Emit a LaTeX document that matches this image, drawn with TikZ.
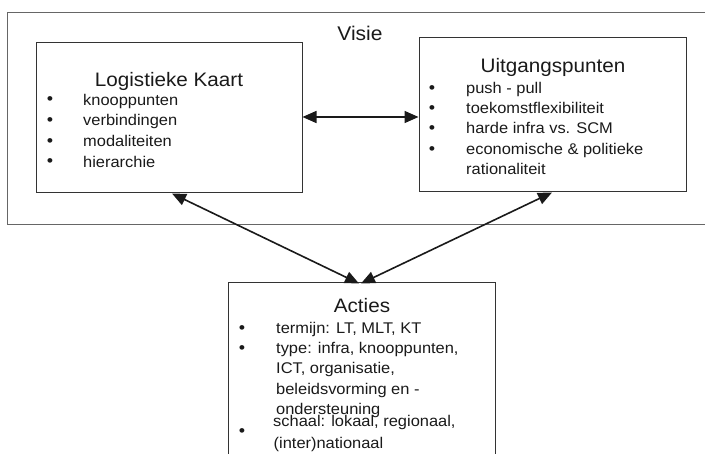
\documentclass[tikz,border=0pt]{standalone}
\usepackage{fontspec}
\setmainfont{Liberation Sans}[FakeStretch=1.06]
\usetikzlibrary{arrows.meta}
\definecolor{ink}{HTML}{1A1A1A}
\definecolor{frame}{HTML}{333333}
\definecolor{outerline}{HTML}{666666}
\tikzset{
  box/.style={draw=frame, line width=1pt, rectangle, inner sep=0},
  title/.style={anchor=base, inner sep=0, font=\fontsize{19.5}{20}\selectfont, text=ink},
  item/.style={anchor=base west, inner sep=0, font=\fontsize{15.5}{16}\selectfont, text=ink},
  dot/.style={anchor=center, inner sep=0, font=\fontsize{17}{17}\selectfont, text=ink},
  link/.style={draw=ink, line width=1.6pt,
    {Triangle[length=14pt,width=12pt]}-{Triangle[length=14pt,width=12pt]}},
}
\begin{document}
\begin{tikzpicture}[x=1pt,y=-1pt]
\useasboundingbox (0,0) rectangle (705,454);
\clip (0,0) rectangle (705,454);
\fill[white] (0,0) rectangle (705,454);

% outer frame: Visie
\node[draw=outerline, line width=0.9pt, rectangle, inner sep=0,
      minimum width=705pt, minimum height=212pt] (visie) at (359.5,118) {};
\node[title, font=\fontsize{19.8}{20}\selectfont] (visietitle) at (360,41) {Visie};

% left box: Logistieke Kaart
\node[box, minimum width=266pt, minimum height=150pt] (lk) at (169,118) {};
\node[title] (lktitle) at (169,87) {Logistieke Kaart};
\foreach \t/\y/\n in {knooppunten/105.5/1, verbindingen/126/2, modaliteiten/146.7/3, hierarchie/167.5/4}{
  \node[dot] (lkdot\n) at (50,\y-4.5) {•};
  \node[item] (lkitem\n) at (83,\y) {\t};
}

% right box: Uitgangspunten
\node[box, minimum width=267pt, minimum height=154pt] (up) at (552.5,115) {};
\node[title] (uptitle) at (553,72.5) {Uitgangspunten};
\foreach \t/\y/\n in {push - pull/93.3/1, toekomstflexibiliteit/113.5/2, harde infra vs. SCM/134/3, economische \& politieke/154.3/4}{
  \node[dot] (updot\n) at (432,\y-4) {•};
  \node[item] (upitem\n) at (466,\y) {\t};
}
\node[item] (upitem5) at (466,174.5) {rationaliteit};

% bottom box: Acties
\node[box, minimum width=267pt, minimum height=180pt] (ac) at (361.5,373) {};
\node[title] (actitle) at (362,312.5) {Acties};
\node[dot] (acdot1) at (242,330) {•};
\node[dot] (acdot2) at (242,350) {•};
\node[dot] (acdot3) at (242,432.7) {•};
\node[item] (acitem1) at (276,333.3) {termijn: LT, MLT, KT};
\node[item] (acitem2) at (276,353.5) {type: infra, knooppunten,};
\node[item] (acitem3) at (276,374) {ICT, organisatie,};
\node[item] (acitem4) at (276,394.3) {beleidsvorming en -};
\node[item] (acitem5) at (276,414.5) {ondersteuning};
\node[item] (acitem6) at (273,427) {schaal: lokaal, regionaal,};
\node[item] (acitem7) at (273.5,448.3) {(inter)nationaal};

% connectors
\coordinate (hy) at (0,117);
\coordinate (lkfoot) at (172,193.5);
\coordinate (upfoot) at (552,192.5);
\coordinate (actopl) at (359,283.5);
\coordinate (actopr) at (361,283.5);
\draw[link] (lk.east |- hy) -- (up.west |- hy);
\draw[link] (lkfoot) -- (actopl);
\draw[link] (upfoot) -- (actopr);
\end{tikzpicture}
\end{document}
